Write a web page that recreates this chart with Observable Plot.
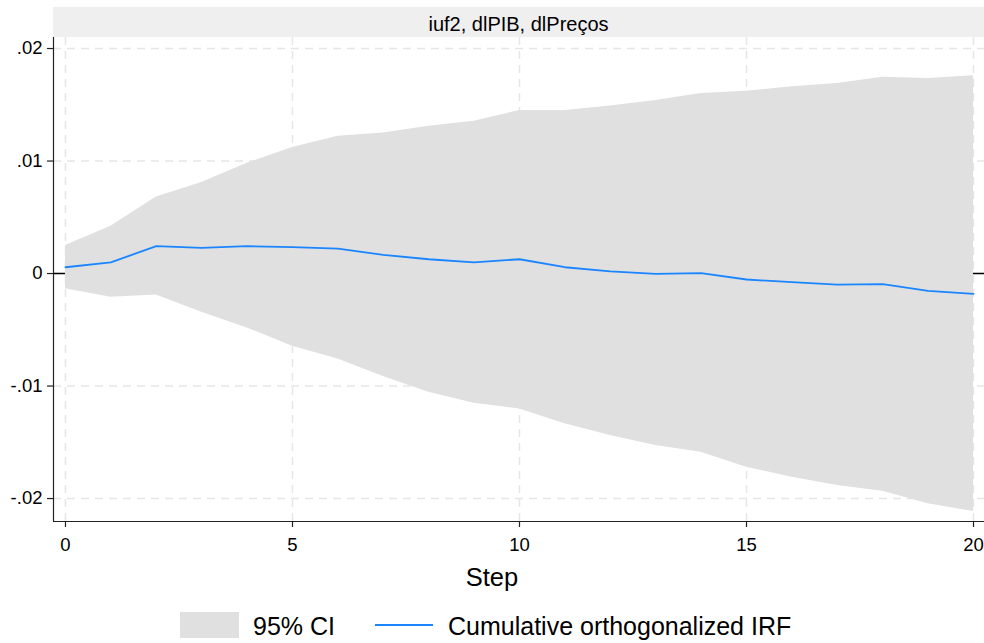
<!DOCTYPE html>
<html>
<head>
<meta charset="utf-8">
<script src="https://cdn.jsdelivr.net/npm/d3@7"></script>
<script src="https://cdn.jsdelivr.net/npm/@observablehq/plot@0.6"></script>
<style>
  body { margin: 0; background: #fff; font-family: "Liberation Sans", Arial, sans-serif; }
  #wrap { position: relative; width: 984px; height: 643px; }
  #strip { position: absolute; left: 53px; top: 7px; width: 931px; height: 30px; background: #efefef;
           font-size: 20px; color: #000; text-align: center; line-height: 30px; }
  #strip span { position: relative; top: 2px; }
  #xlabel { position: absolute; left: 0; width: 984px; top: 562px; line-height: 30px; text-align: center; font-size: 25.5px; }
  #legend { position: absolute; top: 612px; left: 0; width: 984px; height: 27px; font-size: 25px; }
  .sw { position: absolute; }
  svg { position: absolute; left: 0; top: 0; }
</style>
</head>
<body>
<div id="wrap">
  <div id="chart"></div>
  <div id="strip"><span></span></div>
  <div id="xlabel"></div>
  <div id="legend"></div>
</div>
<script>
const panelTitle = "iuf2, dlPIB, dlPreços";
const xTitle = "Step";
const legendLabels = ["95% CI", "Cumulative orthogonalized IRF"];
const steps = [0,1,2,3,4,5,6,7,8,9,10,11,12,13,14,15,16,17,18,19,20];
const irf = [0.00056,0.0010,0.00243,0.00228,0.00243,0.00234,0.00222,0.00166,0.00127,0.0010,0.00127,0.00056,0.0002,-0.00003,0.00003,-0.00053,-0.00077,-0.00098,-0.00095,-0.00154,-0.0018];
const ciUpper = [0.00249,0.0042,0.0068,0.0081,0.0098,0.0112,0.0122,0.0125,0.0131,0.01354,0.01449,0.0145,0.0149,0.01538,0.0160,0.0162,0.0166,0.0169,0.01745,0.01733,0.01757];
const ciLower = [-0.00136,-0.0021,-0.0019,-0.00344,-0.00483,-0.00646,-0.00759,-0.00916,-0.01055,-0.01153,-0.01203,-0.01336,-0.0144,-0.01529,-0.01588,-0.01721,-0.0181,-0.01884,-0.01935,-0.02047,-0.02116];
const xTicks = [0,5,10,15,20];
const yTicks = [-0.02,-0.01,0,0.01,0.02];
const yTickLabels = ["-.02","-.01","0",".01",".02"];

const data = steps.map((s,i) => ({step: s, irf: irf[i], lo: ciLower[i], hi: ciUpper[i]}));
const xDomain = [-0.264, 20.242];
const yDomain = [-0.02204, 0.02098];
const gridColor = "#e6e6e6";
const areaColor = "#e0e0e0";
const lineColor = "#1a85ff";

const chart = Plot.plot({
  width: 984,
  height: 643,
  marginLeft: 53,
  marginRight: 0,
  marginTop: 37,
  marginBottom: 122,
  style: { fontFamily: "Liberation Sans, Arial, sans-serif", fontSize: "18.5px", color: "#000", background: "transparent" },
  x: { domain: xDomain, label: null },
  y: { domain: yDomain, label: null },
  marks: [
    Plot.gridX(xTicks, { stroke: gridColor, strokeOpacity: 1, strokeWidth: 1.5, strokeDasharray: "8,6" }),
    Plot.gridY(yTicks, { stroke: gridColor, strokeOpacity: 1, strokeWidth: 1.5, strokeDasharray: "8,6" }),
    Plot.ruleY([0], { stroke: "#000", strokeWidth: 1.5 }),
    Plot.areaY(data, { x: "step", y1: "lo", y2: "hi", fill: areaColor, fillOpacity: 1 }),
    Plot.lineY(data, { x: "step", y: "irf", stroke: lineColor, strokeWidth: 1.8 }),
    Plot.ruleX([xDomain[0]], { stroke: "#222", strokeWidth: 1.2 }),
    Plot.ruleY([yDomain[0]], { stroke: "#222", strokeWidth: 1.2 }),
    Plot.axisY(yTicks, { tickFormat: (d) => yTickLabels[yTicks.indexOf(d)], tickSize: 6, tickPadding: 5, stroke: "#222", strokeWidth: 1.2, label: null, fontSize: 18.5 }),
    Plot.axisX(xTicks, { tickFormat: d => String(d), tickSize: 6, tickPadding: 10, stroke: "#222", strokeWidth: 1.2, label: null, fontSize: 18.5 })
  ]
});
document.getElementById("chart").appendChild(chart);
document.querySelector("#strip span").textContent = panelTitle;
document.getElementById("xlabel").textContent = xTitle;

const leg = document.getElementById("legend");
leg.innerHTML = `
  <div class="sw" style="left:180px; top:0; width:59px; height:26px; background:${areaColor}"></div>
  <div class="sw" style="left:253px; top:0; line-height:28px;">${legendLabels[0]}</div>
  <div class="sw" style="left:375px; top:12px; width:58px; height:2px; background:${lineColor}"></div>
  <div class="sw" style="left:448px; top:0; line-height:28px;">${legendLabels[1]}</div>
`;
</script>
</body>
</html>
